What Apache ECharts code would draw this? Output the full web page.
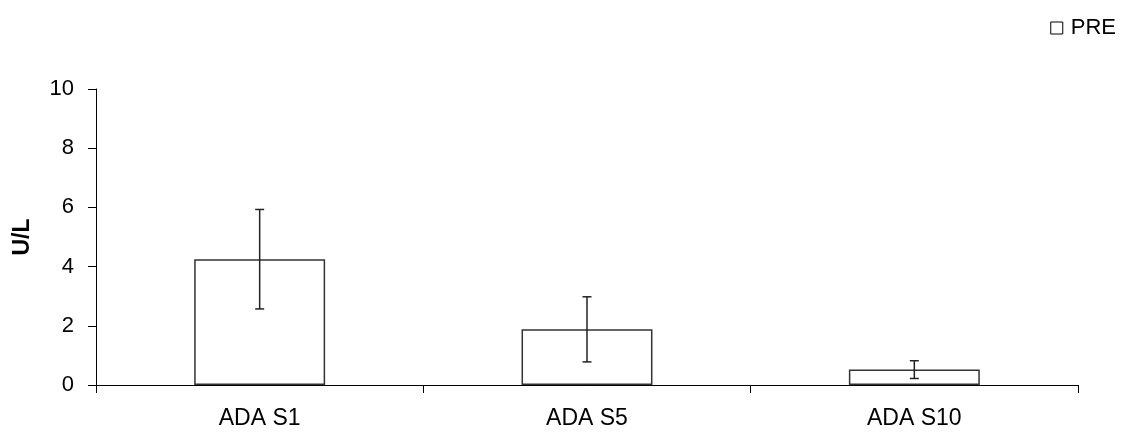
<!DOCTYPE html>
<html>
<head>
<meta charset="utf-8">
<script src="https://cdn.jsdelivr.net/npm/echarts@6/dist/echarts.min.js"></script>
<style>
  html, body { margin: 0; padding: 0; background: #fff; }
  #chart { width: 1134px; height: 444px; }
</style>
</head>
<body>
<div id="chart"></div>
<script>
// Enzyme activity by sample, mean with error
const categories = ['ADA S1', 'ADA S5', 'ADA S10'];
const preMeans = [4.25, 1.88, 0.52];
const preErrors = [1.68, 1.1, 0.3];
const yTicks = [0, 2, 4, 6, 8, 10];
const seriesName = 'PRE';

const FONT = 'Liberation Sans, Arial, sans-serif';

const errorData = categories.map((c, i) => [i, preMeans[i] - preErrors[i], preMeans[i] + preErrors[i]]);

const chart = echarts.init(document.getElementById('chart'), null, { renderer: 'canvas' });

chart.setOption({
  animation: false,
  backgroundColor: '#ffffff',
  grid: { left: 96, right: 56, top: 89, bottom: 59, containLabel: false },
  legend: {
    data: [{ name: seriesName, icon: 'rect' }],
    right: 13, top: 12,
    itemWidth: 12, itemHeight: 12, itemGap: 4,
    textStyle: { fontFamily: FONT, fontSize: 22, color: '#000', padding: [0, 0, 0, 3] },
    itemStyle: { color: '#fff', borderColor: '#000', borderWidth: 1 }
  },
  xAxis: {
    type: 'category',
    data: categories,
    boundaryGap: true,
    axisLine: { lineStyle: { color: '#000', width: 1 } },
    axisTick: { show: true, length: 8, inside: false, lineStyle: { color: '#000' } },
    axisLabel: { fontFamily: FONT, fontSize: 23, color: '#000', margin: 22 },
    splitLine: { show: false }
  },
  yAxis: {
    type: 'value',
    min: yTicks[0], max: yTicks[yTicks.length - 1], interval: yTicks[1] - yTicks[0],
    name: 'U/L',
    nameLocation: 'middle',
    nameGap: 62,
    nameRotate: 90,
    nameTextStyle: { fontFamily: FONT, fontSize: 23, fontWeight: 'bold', color: '#000' },
    axisLine: { show: true, lineStyle: { color: '#000', width: 1 } },
    axisTick: { show: true, length: 8, lineStyle: { color: '#000' } },
    axisLabel: { fontFamily: FONT, fontSize: 22, color: '#000', margin: 22 },
    splitLine: { show: false }
  },
  series: [
    {
      name: seriesName,
      type: 'bar',
      data: preMeans,
      barWidth: '40%',
      itemStyle: { color: '#fff', borderColor: '#333', borderWidth: 1.5 }
    },
    {
      name: 'err',
      type: 'custom',
      data: errorData,
      z: 5,
      renderItem: function (params, api) {
        const x = api.value(0);
        const lo = api.coord([x, api.value(1)]);
        const hi = api.coord([x, api.value(2)]);
        const half = 4.5;
        const style = { stroke: '#222', lineWidth: 1.5 };
        return {
          type: 'group',
          children: [
            { type: 'line', shape: { x1: hi[0], y1: hi[1], x2: lo[0], y2: lo[1] }, style: style },
            { type: 'line', shape: { x1: hi[0] - half, y1: hi[1], x2: hi[0] + half, y2: hi[1] }, style: style },
            { type: 'line', shape: { x1: lo[0] - half, y1: lo[1], x2: lo[0] + half, y2: lo[1] }, style: style }
          ]
        };
      }
    }
  ]
});
</script>
</body>
</html>
